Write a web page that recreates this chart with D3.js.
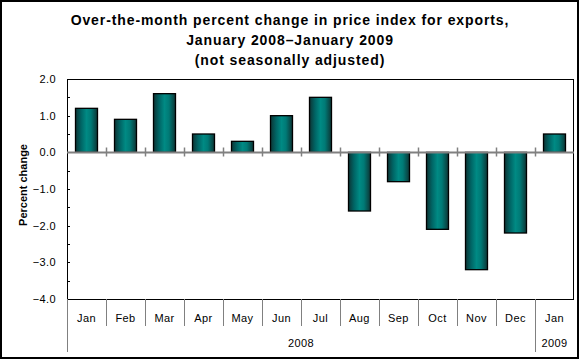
<!DOCTYPE html>
<html><head><meta charset="utf-8">
<script src="https://cdn.jsdelivr.net/npm/d3@7"></script>
<style>body{margin:0;background:#fff}svg{display:block}text{font-family:Arial,"Liberation Sans",sans-serif}</style>
</head><body>
<svg id="c" width="580" height="360"></svg>
<script>
const months = ["Jan","Feb","Mar","Apr","May","Jun","Jul","Aug","Sep","Oct","Nov","Dec","Jan"];
const years = [{label:"2008", from:0, to:11},{label:"2009", from:12, to:12}];
const values = [1.2, 0.9, 1.6, 0.5, 0.3, 1.0, 1.5, -1.6, -0.8, -2.1, -3.2, -2.2, 0.5];
const yTicks = [2.0, 1.0, 0.0, -1.0, -2.0, -3.0, -4.0];
const titleLines = ["Over-the-month percent change in price index for exports,","January 2008\u2013January 2009","(not seasonally adjusted)"];

const svg = d3.select("#c");
const L=67, R=574, T=79, B=299;
const idx = months.map((d,i)=>i);
const xCat = d3.scaleBand().domain(idx).range([L,R]).padding(0);
const xBar = d3.scaleBand().domain(idx).range([L,R]).paddingInner(0.44).paddingOuter(0.22);
const y = d3.scaleLinear().domain([-4,2]).range([B,T]);

const defs = svg.append("defs");
const g = defs.append("linearGradient").attr("id","bg").attr("x1","0").attr("x2","1").attr("y1","0").attr("y2","0");
[[0,"#0d3434"],[0.25,"#006464"],[0.5,"#008a84"],[0.7,"#007a76"],[1,"#0d3434"]].forEach(s=>g.append("stop").attr("offset",s[0]).attr("stop-color",s[1]));

svg.append("rect").attr("x",1).attr("y",1).attr("width",577).attr("height",357).attr("fill","#fff").attr("stroke","#000").attr("stroke-width",2);

// title
svg.append("g").selectAll("text").data(titleLines).join("text")
  .attr("x",290).attr("y",(d,i)=>20+i*20).attr("text-anchor","middle").attr("dominant-baseline","central")
  .attr("font-size","14px").attr("font-weight","bold").attr("letter-spacing","0.9px").text(d=>d);

// plot frame
svg.append("rect").attr("x",L+0.5).attr("y",T+0.5).attr("width",R-L-1).attr("height",B-T).attr("fill","none").attr("stroke","#000").attr("stroke-width",1);

// y axis
const yAxis = d3.axisLeft(y).tickValues(yTicks).tickFormat(d3.format(".1f")).tickSize(0).tickPadding(11);
const ya = svg.append("g").attr("transform",`translate(${L},0)`).call(yAxis);
ya.select(".domain").remove();
ya.selectAll("text").attr("font-size","11px").attr("fill","#000").attr("letter-spacing","0.4px");
// minor/major inward ticks
const tickVals = d3.range(-4,2.01,0.5);
svg.append("g").selectAll("line").data(tickVals).join("line")
  .attr("x1",L).attr("x2",L+3).attr("y1",d=>Math.round(y(d))+0.5).attr("y2",d=>Math.round(y(d))+0.5).attr("stroke","#000");

svg.append("text").attr("transform","translate(23,185) rotate(-90)").attr("text-anchor","middle").attr("dominant-baseline","central")
  .attr("font-size","11px").attr("font-weight","bold").text("Percent change");

// bars
svg.append("g").selectAll("rect").data(values).join("rect")
  .attr("x",(d,i)=>Math.round(xBar(i))-1+0.5).attr("width",Math.round(xBar.bandwidth()))
  .attr("y",d=>y(Math.max(0,d))).attr("height",d=>Math.abs(y(d)-y(0)))
  .attr("fill","url(#bg)").attr("stroke","#000").attr("stroke-width",1.3);

// zero line and ticks
const y0 = Math.round(y(0))+0.5;
svg.append("line").attr("x1",L).attr("x2",R).attr("y1",y0).attr("y2",y0).attr("stroke","#808080").attr("stroke-width",2);
svg.append("g").selectAll("line").data(idx.slice(1)).join("line")
  .attr("x1",i=>Math.round(xCat(i))+0.5).attr("x2",i=>Math.round(xCat(i))+0.5)
  .attr("y1",y0-5).attr("y2",y0+4).attr("stroke","#808080").attr("stroke-width",1.5);

// category axis below
const yearStarts = years.map(d=>d.from);
svg.append("g").selectAll("line").data(idx).join("line")
  .attr("x1",i=>Math.round(xCat(i))+0.5).attr("x2",i=>Math.round(xCat(i))+0.5)
  .attr("y1",B).attr("y2",i=>(yearStarts.includes(i)?352:326))
  .attr("stroke","#808080").attr("stroke-width",1);
svg.append("g").selectAll("text").data(months).join("text")
  .attr("x",(d,i)=>xCat(i)+xCat.bandwidth()/2).attr("y",318).attr("text-anchor","middle").attr("dominant-baseline","central")
  .attr("font-size","11px").attr("letter-spacing","0.4px").text(d=>d);
svg.append("g").selectAll("text").data(years).join("text")
  .attr("x",d=>(xCat(d.from)+xCat(d.to)+xCat.bandwidth())/2).attr("y",343).attr("text-anchor","middle").attr("dominant-baseline","central")
  .attr("font-size","11px").attr("letter-spacing","0.4px").text(d=>d.label);
</script>
</body></html>
